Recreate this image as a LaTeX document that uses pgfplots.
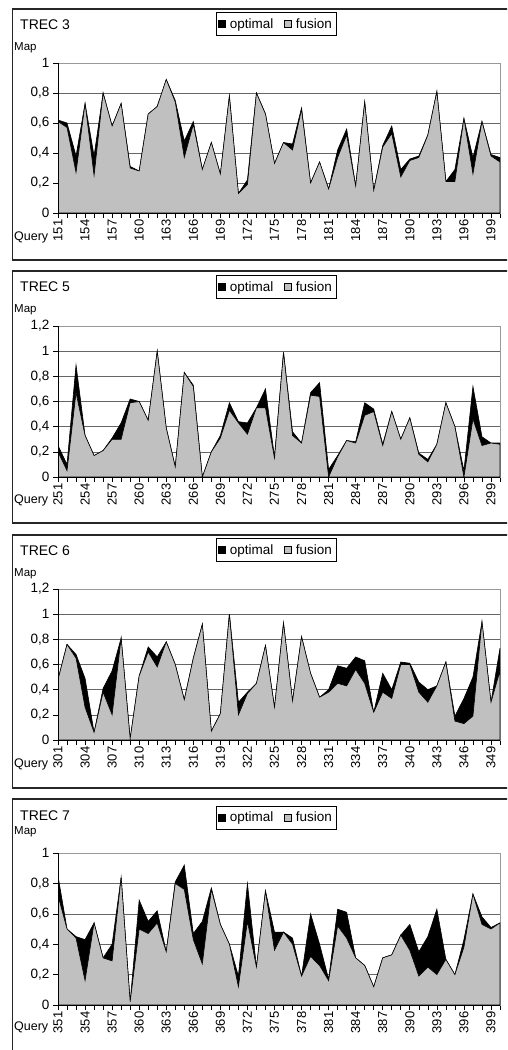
\documentclass[border=0pt]{standalone}
\usepackage{fontspec}
\setmainfont{Liberation Sans}
\usepackage{pgfplots}
\usepackage{pgfplotstable}
\pgfplotsset{compat=1.18}
\definecolor{silver}{RGB}{192,192,192}

\pgfplotstableread{
q opt fus
151 0.62 0.61
152 0.60 0.57
153 0.38 0.27
154 0.73 0.73
155 0.38 0.25
156 0.80 0.80
157 0.58 0.58
158 0.73 0.73
159 0.31 0.30
160 0.28 0.28
161 0.66 0.66
162 0.71 0.71
163 0.89 0.89
164 0.75 0.74
165 0.48 0.37
166 0.61 0.59
167 0.29 0.29
168 0.47 0.47
169 0.26 0.26
170 0.78 0.78
171 0.13 0.13
172 0.22 0.19
173 0.80 0.80
174 0.66 0.66
175 0.33 0.33
176 0.47 0.47
177 0.46 0.42
178 0.70 0.69
179 0.20 0.20
180 0.34 0.34
181 0.16 0.16
182 0.42 0.37
183 0.56 0.52
184 0.18 0.18
185 0.74 0.74
186 0.15 0.15
187 0.45 0.44
188 0.58 0.53
189 0.29 0.24
190 0.36 0.35
191 0.38 0.37
192 0.52 0.52
193 0.81 0.81
194 0.21 0.21
195 0.29 0.21
196 0.63 0.63
197 0.37 0.26
198 0.61 0.61
199 0.39 0.38
200 0.37 0.34
}\tA

\pgfplotstableread{
q opt fus
251 0.25 0.20
252 0.10 0.05
253 0.89 0.67
254 0.33 0.33
255 0.17 0.17
256 0.21 0.21
257 0.31 0.30
258 0.43 0.30
259 0.62 0.59
260 0.60 0.60
261 0.45 0.45
262 1.00 1.00
263 0.39 0.39
264 0.08 0.08
265 0.83 0.83
266 0.73 0.72
267 0.00 0.00
268 0.20 0.20
269 0.33 0.31
270 0.59 0.53
271 0.44 0.43
272 0.43 0.34
273 0.55 0.55
274 0.70 0.55
275 0.16 0.15
276 0.99 0.99
277 0.36 0.33
278 0.27 0.27
279 0.67 0.65
280 0.75 0.64
281 0.06 0.00
282 0.17 0.16
283 0.29 0.29
284 0.28 0.27
285 0.59 0.49
286 0.54 0.52
287 0.26 0.25
288 0.52 0.52
289 0.30 0.30
290 0.47 0.47
291 0.19 0.18
292 0.14 0.12
293 0.26 0.26
294 0.59 0.59
295 0.40 0.40
296 0.05 0.00
297 0.72 0.46
298 0.32 0.25
299 0.27 0.27
300 0.27 0.26
}\tB

\pgfplotstableread{
q opt fus
301 0.48 0.48
302 0.76 0.76
303 0.68 0.65
304 0.49 0.26
305 0.06 0.06
306 0.41 0.38
307 0.55 0.20
308 0.81 0.81
309 0.01 0.01
310 0.51 0.51
311 0.74 0.70
312 0.66 0.58
313 0.78 0.78
314 0.60 0.60
315 0.32 0.32
316 0.65 0.65
317 0.92 0.92
318 0.07 0.07
319 0.21 0.21
320 1.00 1.00
321 0.30 0.20
322 0.38 0.37
323 0.45 0.45
324 0.75 0.75
325 0.26 0.26
326 0.93 0.93
327 0.31 0.31
328 0.82 0.82
329 0.53 0.53
330 0.34 0.34
331 0.40 0.38
332 0.59 0.45
333 0.57 0.43
334 0.66 0.56
335 0.63 0.45
336 0.22 0.22
337 0.53 0.38
338 0.40 0.33
339 0.62 0.60
340 0.61 0.60
341 0.46 0.38
342 0.40 0.30
343 0.43 0.43
344 0.62 0.62
345 0.19 0.15
346 0.33 0.13
347 0.50 0.19
348 0.94 0.94
349 0.30 0.30
350 0.73 0.55
}\tC

\pgfplotstableread{
q opt fus
351 0.85 0.72
352 0.50 0.50
353 0.45 0.44
354 0.43 0.16
355 0.54 0.54
356 0.31 0.31
357 0.40 0.29
358 0.84 0.84
359 0.02 0.02
360 0.69 0.50
361 0.55 0.47
362 0.62 0.54
363 0.35 0.35
364 0.81 0.80
365 0.92 0.76
366 0.47 0.43
367 0.55 0.27
368 0.77 0.76
369 0.53 0.53
370 0.40 0.40
371 0.19 0.12
372 0.80 0.55
373 0.25 0.25
374 0.75 0.75
375 0.48 0.36
376 0.48 0.48
377 0.44 0.40
378 0.19 0.19
379 0.60 0.32
380 0.40 0.26
381 0.17 0.16
382 0.63 0.52
383 0.61 0.44
384 0.31 0.31
385 0.26 0.26
386 0.12 0.12
387 0.31 0.31
388 0.33 0.33
389 0.46 0.46
390 0.53 0.36
391 0.35 0.19
392 0.45 0.25
393 0.63 0.20
394 0.30 0.30
395 0.20 0.20
396 0.43 0.38
397 0.73 0.73
398 0.58 0.53
399 0.51 0.50
400 0.54 0.54
}\tD

\pgfplotsset{
  trec/.style={
    scale only axis, width=442pt,
    ymin=0,
    tick align=outside,
    major tick length=5pt, minor tick length=5pt,
    xtick pos=bottom, ytick pos=left,
    tick style={black, line width=0.6pt},
    ymajorgrids,
    major grid style={black!60, line width=0.6pt},
    axis line style={black!40, line width=0.6pt},
    /pgf/number format/assume math mode=true,
    xticklabel style={rotate=90, anchor=east, font=\fontsize{13}{13}\selectfont, inner sep=1.5pt},
    yticklabel style={font=\fontsize{13.5}{13.5}\selectfont, /pgf/number format/.cd, fixed, use comma, precision=1},
    legend columns=2,
    legend style={anchor=north west, draw=black, line width=0.6pt,
      font=\fontsize{13.5}{13.5}\selectfont, inner xsep=2pt, inner ysep=4pt,
      /tikz/every odd column/.append style={column sep=2pt},
      /tikz/every even column/.append style={column sep=9pt}},
  },
  optarea/.style={fill=black, draw=black, line width=0.6pt,
    legend image code/.code={\fill[black] (0pt,-3.5pt) rectangle (7pt,3.5pt);}},
  fusarea/.style={fill=silver, draw=black, line width=0.6pt,
    legend image code/.code={\filldraw[fill=silver, draw=black, line width=0.5pt] (0pt,-3.5pt) rectangle (7pt,3.5pt);}},
}

\newcommand{\blackaxes}{%
  \draw[black, line width=0.8pt] (rel axis cs:0,1) -- (rel axis cs:0,0) -- (rel axis cs:1,0);}

\begin{document}
\begin{tikzpicture}
\path[use as bounding box] (0pt,0pt) rectangle (507pt,-1050pt);
\begin{scope}
\clip (0pt,0pt) rectangle (507pt,-1050pt);
\draw[black!85, line width=1.3pt] (12.5pt,-9pt) rectangle (530pt,-260pt);
\draw[black!85, line width=1.3pt] (12.5pt,-271pt) rectangle (530pt,-523pt);
\draw[black!85, line width=1.3pt] (12.5pt,-535pt) rectangle (530pt,-788pt);
\draw[black!85, line width=1.3pt] (12.5pt,-799pt) rectangle (530pt,-1070pt);
\end{scope}

% ---------- TREC 3
\node[anchor=west, inner sep=0pt, font=\fontsize{14}{14}\selectfont] at (20pt,-25pt) {TREC 3};
\node[anchor=west, inner sep=0pt, font=\fontsize{11.5}{11.5}\selectfont] at (14pt,-48pt) {Map};
\node[anchor=west, inner sep=0pt, font=\fontsize{12.5}{12.5}\selectfont] at (14pt,-237pt) {Query};
\begin{axis}[trec, at={(58pt,-63pt)}, anchor=north west, height=150pt,
  xmin=151, xmax=200, ymax=1,
  xtick={151,154,...,199}, minor xtick={151,...,200},
  ytick={0,0.2,0.4,0.6,0.8,1},
  legend style={at={(axis description cs:0.3575,1.34)}}]
\addplot[optarea] table[x=q, y=opt] {\tA} \closedcycle;
\addplot[fusarea] table[x=q, y=fus] {\tA} \closedcycle;
\blackaxes
\legend{optimal, fusion}
\end{axis}

% ---------- TREC 5
\node[anchor=west, inner sep=0pt, font=\fontsize{14}{14}\selectfont] at (20pt,-287pt) {TREC 5};
\node[anchor=west, inner sep=0pt, font=\fontsize{11.5}{11.5}\selectfont] at (14pt,-310pt) {Map};
\node[anchor=west, inner sep=0pt, font=\fontsize{12.5}{12.5}\selectfont] at (14pt,-500pt) {Query};
\begin{axis}[trec, at={(58pt,-326pt)}, anchor=north west, height=151pt,
  xmin=251, xmax=300, ymax=1.2,
  xtick={251,254,...,299}, minor xtick={251,...,300},
  ytick={0,0.2,0.4,0.6,0.8,1,1.2},
  legend style={at={(axis description cs:0.3575,1.338)}}]
\addplot[optarea] table[x=q, y=opt] {\tB} \closedcycle;
\addplot[fusarea] table[x=q, y=fus] {\tB} \closedcycle;
\blackaxes
\legend{optimal, fusion}
\end{axis}

% ---------- TREC 6
\node[anchor=west, inner sep=0pt, font=\fontsize{14}{14}\selectfont] at (20pt,-551pt) {TREC 6};
\node[anchor=west, inner sep=0pt, font=\fontsize{11.5}{11.5}\selectfont] at (14pt,-574pt) {Map};
\node[anchor=west, inner sep=0pt, font=\fontsize{12.5}{12.5}\selectfont] at (14pt,-764pt) {Query};
\begin{axis}[trec, at={(58pt,-589pt)}, anchor=north west, height=151pt,
  xmin=301, xmax=350, ymax=1.2,
  xtick={301,304,...,349}, minor xtick={301,...,350},
  ytick={0,0.2,0.4,0.6,0.8,1,1.2},
  legend style={at={(axis description cs:0.3575,1.338)}}]
\addplot[optarea] table[x=q, y=opt] {\tC} \closedcycle;
\addplot[fusarea] table[x=q, y=fus] {\tC} \closedcycle;
\blackaxes
\legend{optimal, fusion}
\end{axis}

% ---------- TREC 7
\node[anchor=west, inner sep=0pt, font=\fontsize{14}{14}\selectfont] at (20pt,-816pt) {TREC 7};
\node[anchor=west, inner sep=0pt, font=\fontsize{11.5}{11.5}\selectfont] at (14pt,-832pt) {Map};
\node[anchor=west, inner sep=0pt, font=\fontsize{12.5}{12.5}\selectfont] at (14pt,-1027pt) {Query};
\begin{axis}[trec, at={(58pt,-853pt)}, anchor=north west, height=152pt,
  xmin=351, xmax=400, ymax=1,
  xtick={351,354,...,399}, minor xtick={351,...,400},
  ytick={0,0.2,0.4,0.6,0.8,1},
  legend style={at={(axis description cs:0.3575,1.31)}}]
\addplot[optarea] table[x=q, y=opt] {\tD} \closedcycle;
\addplot[fusarea] table[x=q, y=fus] {\tD} \closedcycle;
\blackaxes
\legend{optimal, fusion}
\end{axis}
\end{tikzpicture}
\end{document}
